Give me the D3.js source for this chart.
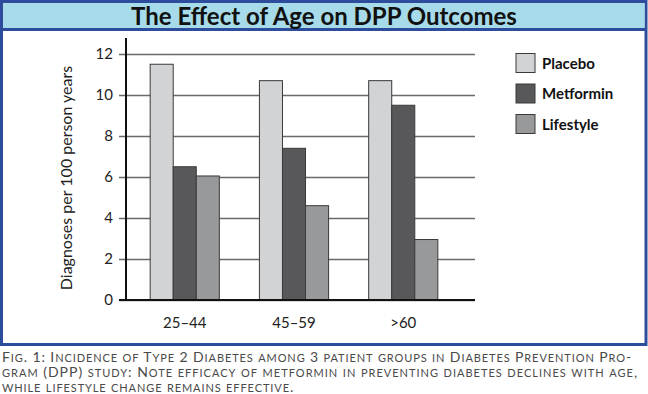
<!DOCTYPE html>
<html><head><meta charset="utf-8">
<script src="https://cdn.jsdelivr.net/npm/d3@7"></script>
<style>
html,body{margin:0;padding:0;background:#fff;}
svg{display:block;}
</style></head>
<body>
<script>
const categories = ["25–44", "45–59", ">60"];
const seriesNames = ["Placebo", "Metformin", "Lifestyle"];
const placebo = [11.5, 10.7, 10.7];
const metformin = [6.5, 7.4, 9.5];
const lifestyle = [6.05, 4.6, 2.95];
const yTicks = [0, 2, 4, 6, 8, 10, 12];
const title = "The Effect of Age on DPP Outcomes";
const yLabel = "Diagnoses per 100 person years";
const captionLines = [
  "Fig. 1: Incidence of Type 2 Diabetes among 3 patient groups in Diabetes Prevention Pro-",
  "gram (DPP) study: Note efficacy of metformin in preventing diabetes declines with age,",
  "while lifestyle change remains effective."
];
const colors = ["#d1d3d5", "#58585a", "#97999b"];

const W = 648, H = 394;
const svg = d3.select("body").append("svg").attr("width", W).attr("height", H);
const font = "Lato, 'Open Sans', sans-serif";

// frame
svg.append("rect").attr("x", 1.5).attr("y", 1.5).attr("width", 644.5).attr("height", 343)
  .attr("fill", "#fff").attr("stroke", "#2d4c9c").attr("stroke-width", 3);
svg.append("rect").attr("x", 3).attr("y", 3).attr("width", 641.5).attr("height", 25.5)
  .attr("fill", "#a7dbe9");
svg.append("line").attr("x1", 1.5).attr("x2", 646).attr("y1", 29.5).attr("y2", 29.5)
  .attr("stroke", "#2d4c9c").attr("stroke-width", 3);
svg.append("text").attr("x", 324).attr("y", 24.5).attr("text-anchor", "middle")
  .attr("font-family", font).attr("font-weight", "bold").attr("font-size", 24)
  .attr("fill", "#111").text(title);

// scales
const x0 = d3.scaleBand().domain(categories).range([130.5, 457.5]).paddingInner(0.367).paddingOuter(0.18);
const x1 = d3.scaleBand().domain(seriesNames).range([0, x0.bandwidth()]);
const y = d3.scaleLinear().domain([0, 12]).range([300, 54]);

const axisX = 126, gridEnd = 475;
const yAxis = d3.axisLeft(y).tickValues(yTicks).tickSize(-(gridEnd - 119)).tickPadding(6).tickFormat(d3.format("d"));
const gy = svg.append("g").attr("transform", `translate(119,0)`).call(yAxis);
gy.select(".domain").remove();
gy.selectAll(".tick line").attr("stroke", "#6a6a6a").attr("stroke-width", 1.6);
gy.selectAll(".tick text").attr("font-family", font).attr("font-size", 15).attr("fill", "#222");

// bars
const data = categories.map((c, i) => ({cat: c, vals: [placebo[i], metformin[i], lifestyle[i]]}));
const groups = svg.append("g").selectAll("g").data(data).join("g")
  .attr("transform", d => `translate(${x0(d.cat)},0)`);
groups.selectAll("rect").data(d => d.vals.map((v, j) => ({s: seriesNames[j], v, j})))
  .join("rect")
  .attr("x", d => x1(d.s)).attr("width", x1.bandwidth())
  .attr("y", d => y(d.v)).attr("height", d => y(0) - y(d.v))
  .attr("fill", d => colors[d.j]).attr("stroke", "#3a3a3a").attr("stroke-width", 1);

// axes lines
svg.append("line").attr("x1", axisX).attr("x2", axisX).attr("y1", 38).attr("y2", y(0) + 1)
  .attr("stroke", "#111").attr("stroke-width", 2);
svg.append("line").attr("x1", 119).attr("x2", gridEnd).attr("y1", y(0)).attr("y2", y(0))
  .attr("stroke", "#111").attr("stroke-width", 2);

// x labels
const xAxis = d3.axisBottom(x0).tickSize(0).tickPadding(0);
const gx = svg.append("g").attr("transform", `translate(0,${y(0) + 17})`).call(xAxis);
gx.select(".domain").remove();
gx.selectAll(".tick text").attr("font-family", font).attr("font-size", 15).attr("fill", "#222");

// y label
svg.append("text").attr("transform", "translate(72,178) rotate(-90)")
  .attr("text-anchor", "middle").attr("font-family", font).attr("font-size", 16)
  .attr("fill", "#222").text(yLabel);

// legend
const lg = svg.append("g").selectAll("g").data(seriesNames).join("g")
  .attr("transform", (d, i) => `translate(516,${53.5 + i * 30.5})`);
lg.append("rect").attr("width", 19).attr("height", 19)
  .attr("fill", (d, i) => colors[i]).attr("stroke", "#3a3a3a").attr("stroke-width", 1);
lg.append("text").attr("x", 26).attr("y", 15).attr("font-family", font)
  .attr("font-weight", "bold").attr("font-size", 15).attr("fill", "#111").text(d => d);

// caption in manual small caps
function runs(s) {
  const out = [];
  for (const ch of s) {
    const small = ch !== ch.toUpperCase();
    if (out.length && out[out.length - 1].small === small) out[out.length - 1].t += ch;
    else out.push({t: ch, small});
  }
  return out;
}
const capG = svg.append("g").attr("font-family", font).attr("fill", "#4a4a4a");
captionLines.forEach((line, i) => {
  const t = capG.append("text").attr("x", 2).attr("y", 362 + i * 15)
    .style("letter-spacing", "0.9px");
  if (i < 2) t.attr("textLength", [630, 636][i]).attr("lengthAdjust", "spacing");
  runs(line).forEach(r => {
    t.append("tspan").attr("font-size", r.small ? 11 : 14).text(r.t.toUpperCase());
  });
});
</script>
</body></html>
